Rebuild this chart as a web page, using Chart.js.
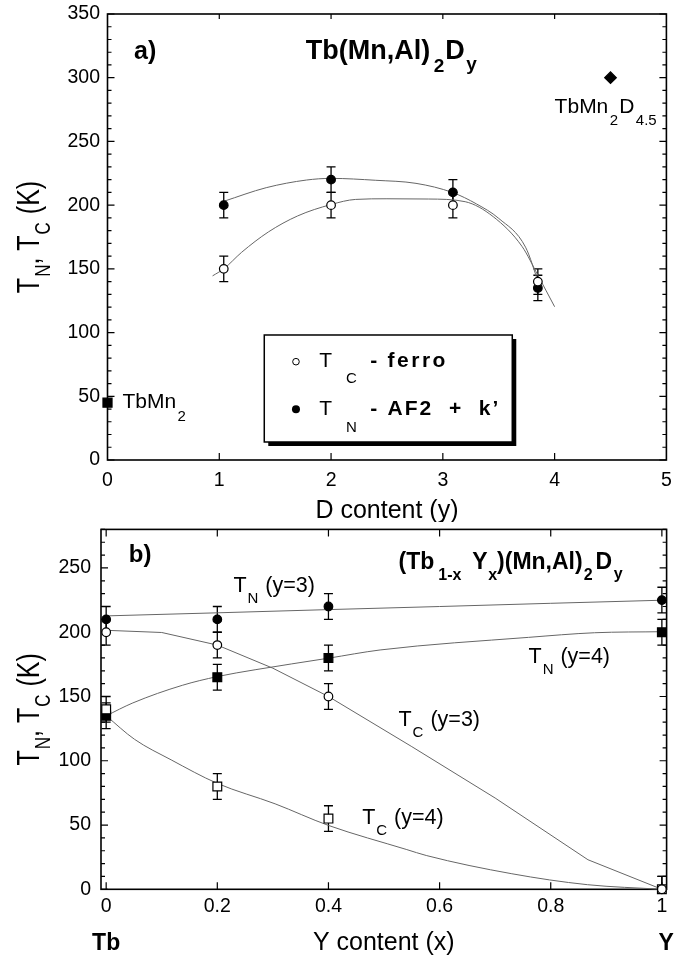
<!DOCTYPE html>
<html><head><meta charset="utf-8">
<script src="https://cdn.jsdelivr.net/npm/chart.js@4/dist/chart.umd.min.js"></script>
<style>
html,body{margin:0;padding:0;background:#fff;}
#wrap{position:relative;width:674px;height:956px;overflow:hidden;background:#fff;}
#ca{position:absolute;left:0;top:0;}
#cb{position:absolute;left:0;top:522px;}
</style></head><body>
<div id="wrap">
<canvas id="ca" width="674" height="522"></canvas>
<canvas id="cb" width="674" height="434"></canvas>
</div>
<script>
// ================= Panel a: Tb(Mn,Al)2Dy =================
const dContent = [1.04, 2.0, 3.09, 3.85];
const tcFerro = [150, 200, 200, 140];
const tnAF2 = [200, 220, 210, 135];
const errA = [10, 10, 10, 10];
const tbMn2X = [0];
const tbMn2T = [45];
const tbMn2D45X = [4.5];
const tbMn2D45T = [300];
const fitTcAX = [0.94, 1.04, 1.2, 1.44, 1.70, 2.0, 2.22, 2.5, 2.87, 3.2, 3.45, 3.71, 3.85, 4.0];
const fitTcAT = [144.5, 150, 163, 179, 191.5, 200.5, 204.5, 205, 204.8, 202.7, 191, 167.4, 145, 120.3];
const fitTnAX = [1.04, 1.42, 1.78, 2.0, 2.4, 2.76, 3.09, 3.3, 3.5, 3.74, 3.86];
const fitTnAT = [203, 213.7, 219.7, 221, 219.5, 217.1, 209.8, 201, 189.6, 167, 138];
const xTicksA = [0, 1, 2, 3, 4, 5];
const yTicksA = [0, 50, 100, 150, 200, 250, 300, 350];

// ================= Panel b: (Tb1-xYx)(Mn,Al)2Dy =================
const yContent = [0, 0.2, 0.4, 1.0];
const tnY3 = [210, 210, 220, 225];
const tcY3 = [200, 190, 150, 0];
const tnY4 = [135, 165, 180, 200];
const tcY4 = [140, 80, 55, 0];
const errB = [10, 10, 10, 10];
const fitTnY3X = [0, 0.2, 0.4, 0.6, 0.8, 1.0];
const fitTnY3T = [212.7, 215.1, 217.6, 220.0, 222.5, 224.9];
const fitTcY3X = [0, 0.1, 0.2, 0.3, 0.4, 0.55, 0.7, 0.867, 1.0];
const fitTcY3T = [201.5, 199.8, 190, 172, 150, 111, 71, 23, 0];
const fitTnY4X = [0, 0.048, 0.137, 0.2, 0.268, 0.4, 0.493, 0.76, 0.879, 1.0];
const fitTnY4T = [135, 145, 158.7, 165.5, 170.8, 179.8, 186.2, 196, 199.6, 200.4];
const fitTcY4X = [0, 0.051, 0.117, 0.2, 0.304, 0.4, 0.541, 0.576, 0.73, 0.866, 1.0];
const fitTcY4T = [135, 116.7, 100.7, 82.4, 66.5, 49.7, 30.9, 26.3, 12.1, 3.6, 0];
const xTicksB = [0, 0.2, 0.4, 0.6, 0.8, 1];
const yTicksB = [0, 50, 100, 150, 200, 250];

// ================= helpers =================
const FONT = '"Liberation Sans", Arial, Helvetica, sans-serif';
function pts(xs, ys) { return xs.map((x, i) => ({ x: x, y: ys[i] })); }
function fmt(v) { return String(Math.round(v * 10) / 10); }

function markerDS(xs, ys, style, filled, radius, err) {
  return {
    type: 'scatter', data: pts(xs, ys), pointStyle: style,
    pointRadius: radius, pointHoverRadius: radius,
    pointBackgroundColor: filled ? '#000' : '#fff', backgroundColor: filled ? '#000' : '#fff',
    pointBorderColor: '#000', borderColor: '#000', pointBorderWidth: 1.2,
    showLine: false, order: 0, clip: false, errorBars: err
  };
}
function fitDS(xs, ys, smooth) {
  const d = {
    type: 'line', data: pts(xs, ys), borderColor: '#666', borderWidth: 1,
    pointRadius: 0, pointHoverRadius: 0, showLine: true, fill: false,
    tension: 0, order: 1, clip: false
  };
  if (smooth) d.cubicInterpolationMode = 'monotone';
  return d;
}
function scalesCfg(o) {
  return {
    x: {
      type: 'linear', position: 'bottom', min: o.xmin, max: o.xmax,
      grid: { display: false, drawTicks: false }, border: { display: false },
      ticks: { font: { family: FONT, size: 19.5 }, color: '#000', padding: o.xPad, maxRotation: 0, autoSkip: false, callback: v => fmt(v) },
      afterBuildTicks: s => { s.ticks = o.xTicks.map(v => ({ value: v })); },
      afterFit: s => { s.height = o.xHeight; s.paddingLeft = 0; s.paddingRight = 0; }
    },
    y: {
      type: 'linear', position: 'left', min: o.ymin, max: o.ymax,
      grid: { display: false, drawTicks: false }, border: { display: false },
      ticks: { font: { family: FONT, size: 19.5 }, color: '#000', padding: o.yPad, autoSkip: false, callback: v => fmt(v) },
      afterBuildTicks: s => { s.ticks = o.yTicks.map(v => ({ value: v })); },
      afterFit: s => { s.width = o.yWidth; s.paddingTop = 0; s.paddingBottom = 0; }
    }
  };
}
function fontStr(p) { return (p.bold ? 'bold ' : '') + p.size + 'px ' + FONT; }
function rich(ctx, parts, x, y, align) {
  const widths = parts.map(p => { ctx.font = fontStr(p); ctx.letterSpacing = (p.ls || 0) + 'px'; return ctx.measureText(p.t).width; });
  const total = parts.reduce((a, p, i) => a + (p.gap || 0) + widths[i], 0);
  let cx = align === 'center' ? x - total / 2 : x;
  ctx.textAlign = 'left'; ctx.textBaseline = 'alphabetic'; ctx.fillStyle = '#000';
  parts.forEach((p, i) => {
    cx += p.gap || 0;
    ctx.font = fontStr(p); ctx.letterSpacing = (p.ls || 0) + 'px';
    ctx.fillText(p.t, cx, y + (p.dy || 0));
    cx += widths[i];
  });
  ctx.letterSpacing = '0px';
}
function yLabel(ctx, cxPix, cyPix) {
  ctx.save();
  ctx.translate(cxPix, cyPix);
  ctx.rotate(-Math.PI / 2);
  ctx.scale(1, 1.28);
  rich(ctx, [
    { t: 'T', size: 25 }, { t: 'N', size: 17, dy: 8.5, gap: 1 }, { t: ', ', size: 25 },
    { t: 'T', size: 25 }, { t: 'C', size: 17, dy: 8.5, gap: 1 }, { t: ' (K)', size: 25, gap: 1 }
  ], 0, 0, 'center');
  ctx.restore();
}
function errorBars(chart) {
  const ctx = chart.ctx, xs = chart.scales.x, ys = chart.scales.y, ca = chart.chartArea;
  ctx.save();
  ctx.beginPath(); ctx.rect(0, ca.top - 1, chart.width, ca.bottom - ca.top + 2); ctx.clip();
  ctx.strokeStyle = '#000'; ctx.lineWidth = 1.3;
  chart.data.datasets.forEach(ds => {
    if (!ds.errorBars) return;
    ds.data.forEach((p, i) => {
      const e = ds.errorBars[i];
      const x = xs.getPixelForValue(p.x);
      const y1 = ys.getPixelForValue(p.y - e), y2 = ys.getPixelForValue(p.y + e);
      ctx.beginPath();
      ctx.moveTo(x, y1); ctx.lineTo(x, y2);
      ctx.moveTo(x - 4.5, y1); ctx.lineTo(x + 4.5, y1);
      ctx.moveTo(x - 4.5, y2); ctx.lineTo(x + 4.5, y2);
      ctx.stroke();
    });
  });
  ctx.restore();
}
function frame(chart, xMajor, yMajor, yMinor, topLen) {
  const ctx = chart.ctx, xs = chart.scales.x, ys = chart.scales.y, ca = chart.chartArea;
  ctx.save();
  ctx.strokeStyle = '#000'; ctx.lineWidth = 1.2;
  ctx.beginPath();
  xMajor.forEach(v => {
    const x = xs.getPixelForValue(v);
    ctx.moveTo(x, ca.bottom); ctx.lineTo(x, ca.bottom - 7);
    ctx.moveTo(x, ca.top); ctx.lineTo(x, ca.top + topLen);
  });
  yMinor.forEach(v => {
    const y = ys.getPixelForValue(v);
    ctx.moveTo(ca.left, y); ctx.lineTo(ca.left + 4, y);
    ctx.moveTo(ca.right, y); ctx.lineTo(ca.right - 4, y);
  });
  yMajor.forEach(v => {
    const y = ys.getPixelForValue(v);
    ctx.moveTo(ca.left, y); ctx.lineTo(ca.left + 7, y);
    ctx.moveTo(ca.right, y); ctx.lineTo(ca.right - 7, y);
  });
  ctx.stroke();
  ctx.lineWidth = 1.6;
  ctx.strokeRect(ca.left, ca.top, ca.right - ca.left, ca.bottom - ca.top);
  ctx.restore();
}
function range(a, b, s) { const r = []; for (let v = a; v <= b + 1e-9; v += s) r.push(Math.round(v * 100) / 100); return r; }

// ================= Chart a =================
const chartA = new Chart(document.getElementById('ca'), {
  type: 'scatter',
  data: {
    datasets: [
      markerDS(dContent, tcFerro, 'circle', false, 4.3, errA),
      markerDS(dContent, tnAF2, 'circle', true, 4.3, errA),
      markerDS(tbMn2X, tbMn2T, 'rect', true, 6.4, null),
      markerDS(tbMn2D45X, tbMn2D45T, 'rectRot', true, 5.8, null),
      fitDS(fitTcAX, fitTcAT, true),
      fitDS(fitTnAX, fitTnAT, true)
    ]
  },
  options: {
    responsive: false, animation: false, devicePixelRatio: 1, events: [],
    layout: { padding: { left: 0, top: 14, right: 5, bottom: 0 } },
    plugins: { legend: { display: false }, tooltip: { enabled: false } },
    scales: scalesCfg({ xmin: 0, xmax: 5, ymin: 0, ymax: 350, xTicks: xTicksA, yTicks: yTicksA,
      xPad: 9, yPad: 7.5, xHeight: 62, yWidth: 107.5 })
  },
  plugins: [{
    id: 'decoA',
    beforeDatasetsDraw(chart) {
      errorBars(chart);
      frame(chart, [1, 2, 3, 4], range(0, 350, 50), range(0, 350, 10), 5);
    },
    afterDraw(chart) {
      const ctx = chart.ctx, xs = chart.scales.x, ys = chart.scales.y, ca = chart.chartArea;
      const P = (x, y) => [xs.getPixelForValue(x), ys.getPixelForValue(y)];
      let p = P(0.237, 314.7);
      rich(ctx, [{ t: 'a)', size: 25, bold: true }], p[0], p[1]);
      p = P(1.774, 314.7);
      rich(ctx, [{ t: 'Tb(Mn,Al)', size: 27, bold: true }, { t: '2', size: 19, bold: true, dy: 12.7, gap: 3.5 },
        { t: 'D', size: 27, bold: true, gap: 1 }, { t: 'y', size: 19, bold: true, dy: 11.5, gap: 1.5 }], p[0], p[1]);
      p = P(4.0, 272.3);
      rich(ctx, [{ t: 'TbMn', size: 21 }, { t: '2', size: 15, dy: 12.4, gap: 1.5 }, { t: 'D', size: 21, gap: 1 },
        { t: '4.5', size: 15, dy: 12.4, gap: 1.5 }], p[0], p[1]);
      p = P(0.1336, 40.6);
      rich(ctx, [{ t: 'TbMn', size: 21 }, { t: '2', size: 15, dy: 12.4, gap: 1.5 }], p[0], p[1]);
      // legend box
      p = P(1.4025, 98.1);
      const L = p[0], T = p[1], W = 248, H = 107;
      ctx.save();
      ctx.fillStyle = '#000'; ctx.fillRect(L + 4, T + 4, W, H);
      ctx.fillStyle = '#fff'; ctx.fillRect(L, T, W, H);
      ctx.strokeStyle = '#000'; ctx.lineWidth = 1.5; ctx.strokeRect(L, T, W, H);
      ctx.beginPath(); ctx.arc(L + 31.7, T + 26.7, 3.3, 0, Math.PI * 2); ctx.fillStyle = '#fff'; ctx.fill(); ctx.lineWidth = 1; ctx.stroke();
      ctx.beginPath(); ctx.arc(L + 31.7, T + 74.3, 4, 0, Math.PI * 2); ctx.fillStyle = '#000'; ctx.fill();
      ctx.restore();
      rich(ctx, [{ t: 'T', size: 21 }], L + 55, T + 31.7);
      rich(ctx, [{ t: 'C', size: 15 }], L + 81.7, T + 48.3);
      rich(ctx, [{ t: '-', size: 21, bold: true }], L + 106, T + 31.7);
      rich(ctx, [{ t: 'ferro', size: 21, bold: true, ls: 2.5 }], L + 123.3, T + 31.7);
      rich(ctx, [{ t: 'T', size: 21 }], L + 55, T + 80);
      rich(ctx, [{ t: 'N', size: 15 }], L + 81.7, T + 96.7);
      rich(ctx, [{ t: '-', size: 21, bold: true }], L + 106, T + 80);
      rich(ctx, [{ t: 'AF2  +  k\u2019', size: 21, bold: true, ls: 2 }], L + 123.3, T + 80);
      // axis titles
      rich(ctx, [{ t: 'D content (y)', size: 25 }], (ca.left + ca.right) / 2, 518, 'center');
      yLabel(ctx, 39, (ca.top + ca.bottom) / 2);
    }
  }]
});

// ================= Chart b =================
const chartB = new Chart(document.getElementById('cb'), {
  type: 'scatter',
  data: {
    datasets: [
      markerDS(yContent, tnY3, 'circle', true, 4.3, errB),
      markerDS(yContent, tcY3, 'circle', false, 4.3, errB),
      markerDS(yContent, tcY4, 'rect', false, 6.2, errB),
      markerDS(yContent, tnY4, 'rect', true, 6.2, errB),
      fitDS(fitTnY3X, fitTnY3T, false),
      fitDS(fitTcY3X, fitTcY3T, false),
      fitDS(fitTnY4X, fitTnY4T, true),
      fitDS(fitTcY4X, fitTcY4T, true)
    ]
  },
  options: {
    responsive: false, animation: false, devicePixelRatio: 1, events: [],
    layout: { padding: { left: 0, top: 5, right: 1.2, bottom: 0 } },
    plugins: { legend: { display: false }, tooltip: { enabled: false } },
    scales: scalesCfg({ xmin: -0.0093, xmax: 1.0085, ymin: 0, ymax: 280, xTicks: xTicksB, yTicks: yTicksB,
      xPad: 5.5, yPad: 10, xHeight: 66.7, yWidth: 101 })
  },
  plugins: [{
    id: 'decoB',
    beforeDatasetsDraw(chart) {
      errorBars(chart);
      frame(chart, xTicksB, range(0, 250, 50), range(0, 280, 10), 7);
    },
    afterDraw(chart) {
      const ctx = chart.ctx, xs = chart.scales.x, ys = chart.scales.y, ca = chart.chartArea;
      const P = (x, y) => [xs.getPixelForValue(x), ys.getPixelForValue(y)];
      let p = P(0.0406, 254.5);
      rich(ctx, [{ t: 'b)', size: 24, bold: true }], p[0], p[1]);
      p = P(0.526, 249.3);
      rich(ctx, [{ t: '(Tb', size: 23, bold: true }, { t: '1-x', size: 16, bold: true, dy: 11.3, gap: 4 },
        { t: 'Y', size: 23, bold: true, gap: 11 }, { t: 'x', size: 16, bold: true, dy: 11.3, gap: 0.5 },
        { t: ')(Mn,Al)', size: 23, bold: true, gap: 0 }, { t: '2', size: 16, bold: true, dy: 11.3, gap: 1 },
        { t: 'D', size: 23, bold: true, gap: 3 }, { t: 'y', size: 16, bold: true, dy: 10.5, gap: 1.5 }], p[0], p[1]);
      const lab = (x, y, sub, tail) => {
        const q = P(x, y);
        rich(ctx, [{ t: 'T', size: 21.5 }, { t: sub, size: 15, dy: 11, gap: 1 }, { t: ' ' + tail, size: 21.5, gap: 1 }], q[0], q[1]);
      };
      lab(0.229, 231.3, 'N', '(y=3)');
      lab(0.760, 175.9, 'N', '(y=4)');
      lab(0.526, 127, 'C', '(y=3)');
      lab(0.4607, 51, 'C', '(y=4)');
      // axis titles
      rich(ctx, [{ t: 'Y content (x)', size: 25 }], (ca.left + ca.right) / 2, 428, 'center');
      rich(ctx, [{ t: 'Tb', size: 23, bold: true }], xs.getPixelForValue(0), 428, 'center');
      rich(ctx, [{ t: 'Y', size: 23, bold: true }], ca.right - 8, 428);
      yLabel(ctx, 39, (ca.top + ca.bottom) / 2);
    }
  }]
});
</script>
</body></html>
